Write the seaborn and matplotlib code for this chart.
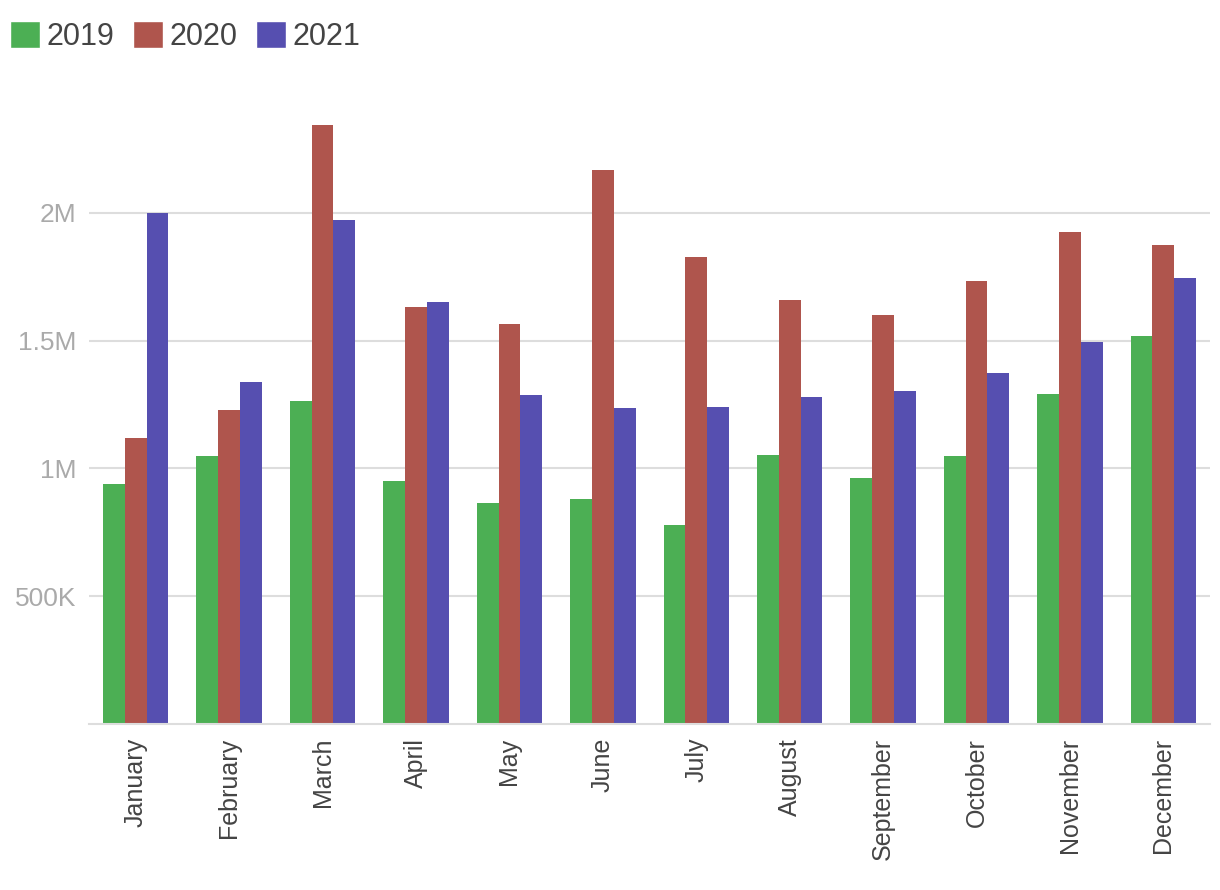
import pandas as pd
import matplotlib.pyplot as plt
import seaborn as sns
from matplotlib.ticker import FuncFormatter
from matplotlib.patches import Patch

# Datos (valores en millones)
months = ['January', 'February', 'March', 'April', 'May', 'June', 'July',
          'August', 'September', 'October', 'November', 'December']
years = ['2019', '2020', '2021']
v2019 = [0.939, 1.049, 1.264, 0.951, 0.865, 0.881, 0.779, 1.053, 0.963, 1.049, 1.292, 1.519]
v2020 = [1.119, 1.229, 2.344, 1.632, 1.566, 2.168, 1.828, 1.659, 1.601, 1.734, 1.926, 1.875]
v2021 = [2.000, 1.339, 1.973, 1.652, 1.288, 1.237, 1.241, 1.280, 1.303, 1.374, 1.495, 1.746]
colors = ['#4caf54', '#af554d', '#564fb0']

rows = []
for year, vals in zip(years, [v2019, v2020, v2021]):
    for m, v in zip(months, vals):
        rows.append({'month': m, 'year': year, 'value': v * 1e6})
df = pd.DataFrame(rows)

sns.set_style('white')
plt.rcParams['font.family'] = ['Liberation Sans', 'DejaVu Sans']

fig = plt.figure(figsize=(12.2, 8.9), dpi=100)
ax = fig.add_axes([0.073, 0.1865, 0.9188, 0.718])

sns.barplot(data=df, x='month', y='value', hue='year', order=months,
            hue_order=years, palette=colors, width=0.7, gap=0,
            saturation=1, errorbar=None, ax=ax, legend=False, linewidth=0)

ax.set_xlim(-0.5, 11.5)
ax.set_ylim(0, 2.5e6)
ax.set_yticks([500000, 1000000, 1500000, 2000000])
ax.yaxis.set_major_formatter(FuncFormatter(
    lambda v, p: f'{v/1e6:g}M' if v >= 1e6 else f'{v/1e3:g}K'))
ax.grid(axis='y', color='#dddddd', linewidth=1.5)
ax.set_axisbelow(True)
for s in ['top', 'right', 'left']:
    ax.spines[s].set_visible(False)
ax.spines['bottom'].set_color('#dddddd')
ax.spines['bottom'].set_linewidth(1.5)
ax.set_xlabel('')
ax.set_ylabel('')
ax.tick_params(axis='y', length=0, labelsize=19, labelcolor='#aaaaaa', pad=9)
ax.tick_params(axis='x', length=0, labelsize=18, labelcolor='#444444', pad=10)
plt.setp(ax.get_xticklabels(), rotation=90)

handles = [Patch(facecolor=c, label=y) for c, y in zip(colors, years)]
fig.legend(handles=handles, loc='upper left', bbox_to_anchor=(-0.002, 0.99),
           ncol=3, frameon=False, fontsize=22, labelcolor='#444444',
           handlelength=1.0, handleheight=1.0, handletextpad=0.2,
           columnspacing=0.6, borderaxespad=0.0)

fig.savefig('out.png', dpi=100)
